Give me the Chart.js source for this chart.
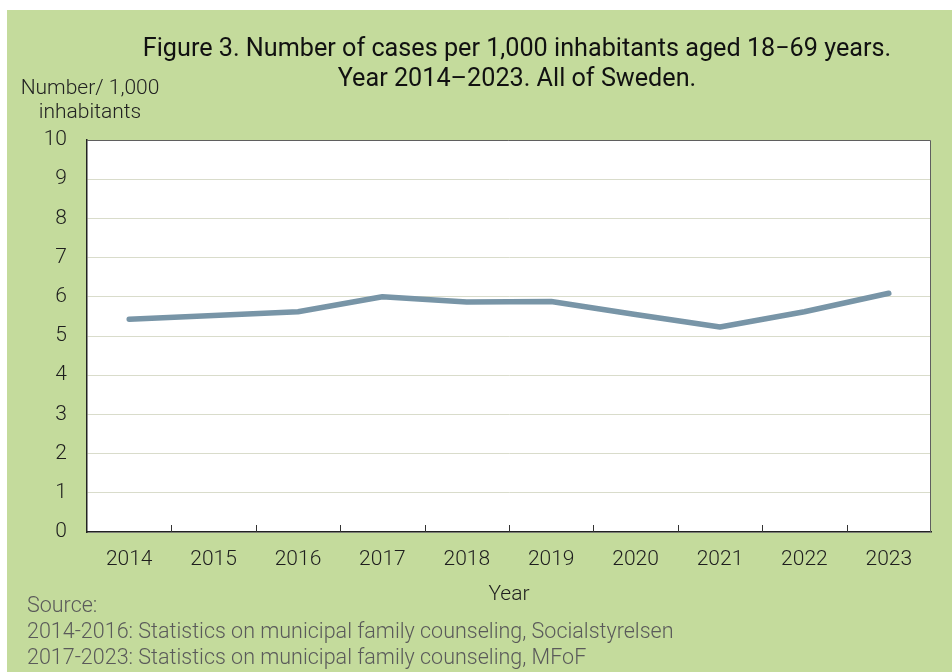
<!DOCTYPE html>
<html>
<head>
<meta charset="utf-8">
<script src="https://cdn.jsdelivr.net/npm/chart.js@4"></script>
<style>
    body { margin: 0; background: #ffffff; font-family: Roboto, sans-serif; }
    #frame { position: absolute; left: 7px; top: 10px; width: 945px; height: 662px; background: #c4db9c; }
    #chartBox { position: absolute; left: 0; top: 0; width: 945px; height: 662px; }
    .txt { position: absolute; white-space: nowrap; }
    #title { left: 0; width: 1020px; top: 23px; text-align: center; font-size: 25.2px; line-height: 30px; color: #111; }
    #unit { left: 12px; width: 142px; top: 65px; text-align: center; font-size: 21px; line-height: 24px; color: #222; font-weight: 300; }
    #source { left: 20px; top: 582px; font-size: 21.5px; line-height: 26px; color: #5a5a5a; font-weight: 300; }
</style>
</head>
<body>
<div id="frame">
    <div id="chartBox"><canvas id="chart"></canvas></div>
    <div class="txt" id="title">Figure 3. Number of cases per 1,000 inhabitants aged 18&#8722;69 years.<br>Year 2014&#8211;2023. All of Sweden.</div>
    <div class="txt" id="unit">Number/ 1,000<br>inhabitants</div>
    <div class="txt" id="source">Source:<br>2014-2016: Statistics on municipal family counseling, Socialstyrelsen<br>2017-2023: Statistics on municipal family counseling, MFoF</div>
</div>
<script>
// Values
const years = ['2014', '2015', '2016', '2017', '2018', '2019', '2020', '2021', '2022', '2023'];
const casesPer1000 = [5.43, 5.52, 5.62, 6.0, 5.87, 5.88, 5.55, 5.23, 5.62, 6.09];
const yTicks = [0, 1, 2, 3, 4, 5, 6, 7, 8, 9, 10];

const tickFont = { family: 'Roboto', size: 21, weight: 300 };

// white plot area with gray frame, drawn before the datasets
const plotFrame = {
    id: 'plotFrame',
    beforeDraw(chart) {
        const { ctx, chartArea: a } = chart;
        ctx.save();
        ctx.fillStyle = '#ffffff';
        ctx.fillRect(a.left, a.top, a.right - a.left, a.bottom - a.top);
        ctx.restore();
    },
    afterDatasetsDraw(chart) {
        const { ctx, chartArea: a, scales } = chart;
        ctx.save();
        ctx.strokeStyle = '#5f5f5f';
        ctx.lineWidth = 1;
        ctx.beginPath();
        ctx.moveTo(a.left, a.top + 0.5);
        ctx.lineTo(a.right - 0.5, a.top + 0.5);
        ctx.lineTo(a.right - 0.5, a.bottom);
        ctx.stroke();
        // inward tick marks between categories
        const x = scales.x;
        ctx.strokeStyle = '#333333';
        ctx.beginPath();
        for (let i = 0; i < years.length - 1; i++) {
            const px = Math.round((x.getPixelForValue(i) + x.getPixelForValue(i + 1)) / 2) + 0.5;
            ctx.moveTo(px, a.bottom);
            ctx.lineTo(px, a.bottom - 7);
        }
        ctx.stroke();
        ctx.restore();
    }
};

new Chart(document.getElementById('chart'), {
    type: 'line',
    data: {
        labels: years,
        datasets: [{
            data: casesPer1000,
            borderColor: '#7895a7',
            borderWidth: 5.5,
            borderCapStyle: 'round',
            borderJoinStyle: 'round',
            pointRadius: 0,
            tension: 0
        }]
    },
    options: {
        responsive: true,
        maintainAspectRatio: false,
        animation: false,
        layout: { padding: { left: 0, top: 130, right: 21, bottom: 65 } },
        plugins: {
            legend: { display: false },
            tooltip: { enabled: false }
        },
        scales: {
            x: {
                offset: true,
                afterFit(s) { s.height = 75; },
                grid: { display: false, drawTicks: false },
                border: { display: true, color: '#222222', width: 1.5 },
                ticks: { color: '#1e1e1e', padding: 15, font: tickFont },
                title: {
                    display: true,
                    text: 'Year',
                    color: '#1e1e1e',
                    padding: 0,
                    font: tickFont
                }
            },
            y: {
                min: 0,
                max: 10,
                afterFit(s) { s.width = 80; },
                afterBuildTicks(s) { s.ticks = yTicks.map(v => ({ value: v })); },
                grid: { color: '#d9dccb', lineWidth: 1, drawTicks: false },
                border: { display: true, color: '#222222', width: 1.5 },
                ticks: { color: '#1e1e1e', padding: 20, font: tickFont }
            }
        }
    },
    plugins: [plotFrame]
});
</script>
</body>
</html>
